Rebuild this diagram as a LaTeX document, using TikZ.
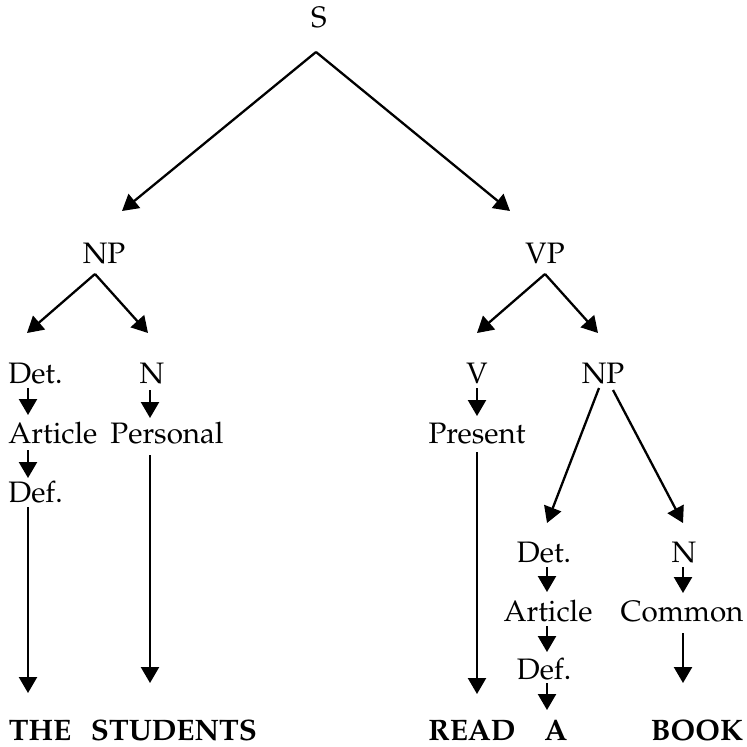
\documentclass[tikz,border=0pt]{standalone}
\usepackage[T1]{fontenc}
\usepackage{mathpazo}
\usetikzlibrary{arrows.meta}
\tikzset{
  lbl/.style={inner sep=0pt, anchor=base, font=\fontsize{14.8}{17}\selectfont},
  lblw/.style={lbl, anchor=base west},
  wrd/.style={lbl, font=\fontsize{14.8}{17}\selectfont\bfseries},
  arr/.style={line width=1.15pt, -{Triangle[length=8pt,width=9pt]}},
  ln/.style={line width=1.15pt}
}
\begin{document}
\begin{tikzpicture}[x=0.5pt,y=-0.5pt]
\useasboundingbox (0,0) rectangle (747,746);
% labels
\node[lbl] (S) at (319,27) {S};
\node[lbl] (NPa) at (104,263) {NP};
\node[lbl] (VP) at (545,263) {VP};
\node[lblw] (DetA) at (8,383) {Det.};
\node[lbl] (NA) at (152,383) {N};
\node[lblw] (ArtA) at (8,443) {Article};
\node[lbl] (Pers) at (167,443) {Personal};
\node[lblw] (DefA) at (8,502) {Def.};
\node[lbl] (V) at (477,383) {V};
\node[lbl] (NPb) at (603,383) {NP};
\node[lbl] (Pres) at (477,443) {Present};
\node[lbl] (DetB) at (544,562) {Det.};
\node[lbl] (NB) at (684,562) {N};
\node[lbl] (ArtB) at (548,621) {Article};
\node[lbl] (Comm) at (682,621) {Common};
\node[lbl] (DefB) at (544,679) {Def.};
\node[wrd] (THE) at (40,740) {THE};
\node[wrd] (STU) at (174,740) {STUDENTS};
\node[wrd] (READ) at (472,740) {READ};
\node[wrd] (A) at (556,740) {A};
\node[wrd] (BOOK) at (697,740) {BOOK};
% connector end points
\coordinate (S-o) at (316,52);
\coordinate (NPa-i) at (122,211);
\coordinate (VP-i) at (510,211);
\coordinate (NPa-o) at (95,274);
\coordinate (DetA-i) at (27,333);
\coordinate (NA-i) at (148,333);
\coordinate (VP-o) at (545,274);
\coordinate (V-i) at (477,333);
\coordinate (NPb-i) at (598,333);
\coordinate (DetA-o) at (28,388);
\coordinate (ArtA-i) at (28,415);
\coordinate (NA-o) at (150,390);
\coordinate (Pers-i) at (150,418);
\coordinate (ArtA-o) at (28,450);
\coordinate (DefA-i) at (28,478);
\coordinate (DefA-o) at (28,507);
\coordinate (THE-i) at (28,693);
\coordinate (Pers-o) at (150,455);
\coordinate (STU-i) at (150,683);
\coordinate (V-o) at (477,388);
\coordinate (Pres-i) at (477,416);
\coordinate (Pres-o) at (477,452);
\coordinate (READ-i) at (477,694);
\coordinate (NPb-oL) at (599,388);
\coordinate (DetB-i) at (547,523);
\coordinate (NPb-oR) at (613,390);
\coordinate (NB-i) at (683,523);
\coordinate (DetB-o) at (547,567);
\coordinate (ArtB-i) at (547,592);
\coordinate (NB-o) at (683,567);
\coordinate (Comm-i) at (683,593);
\coordinate (ArtB-o) at (547,626);
\coordinate (DefB-i) at (547,652);
\coordinate (DefB-o) at (547,683);
\coordinate (A-i) at (547,710);
\coordinate (Comm-o) at (683,633);
\coordinate (BOOK-i) at (683,683);
% connectors
\draw[arr] (S-o) -- (NPa-i);
\draw[arr] (S-o) -- (VP-i);
\draw[arr] (NPa-o) -- (DetA-i);
\draw[arr] (NPa-o) -- (NA-i);
\draw[arr] (VP-o) -- (V-i);
\draw[arr] (VP-o) -- (NPb-i);
\draw[arr] (DetA-o) -- (ArtA-i);
\draw[arr] (NA-o) -- (Pers-i);
\draw[arr] (ArtA-o) -- (DefA-i);
\draw[arr] (DefA-o) -- (THE-i);
\draw[arr] (Pers-o) -- (STU-i);
\draw[arr] (V-o) -- (Pres-i);
\draw[arr] (Pres-o) -- (READ-i);
\draw[arr] (NPb-oL) -- (DetB-i);
\draw[arr] (NPb-oR) -- (NB-i);
\draw[arr] (DetB-o) -- (ArtB-i);
\draw[arr] (NB-o) -- (Comm-i);
\draw[arr] (ArtB-o) -- (DefB-i);
\draw[arr] (DefB-o) -- (A-i);
\draw[arr] (Comm-o) -- (BOOK-i);
\end{tikzpicture}
\end{document}
